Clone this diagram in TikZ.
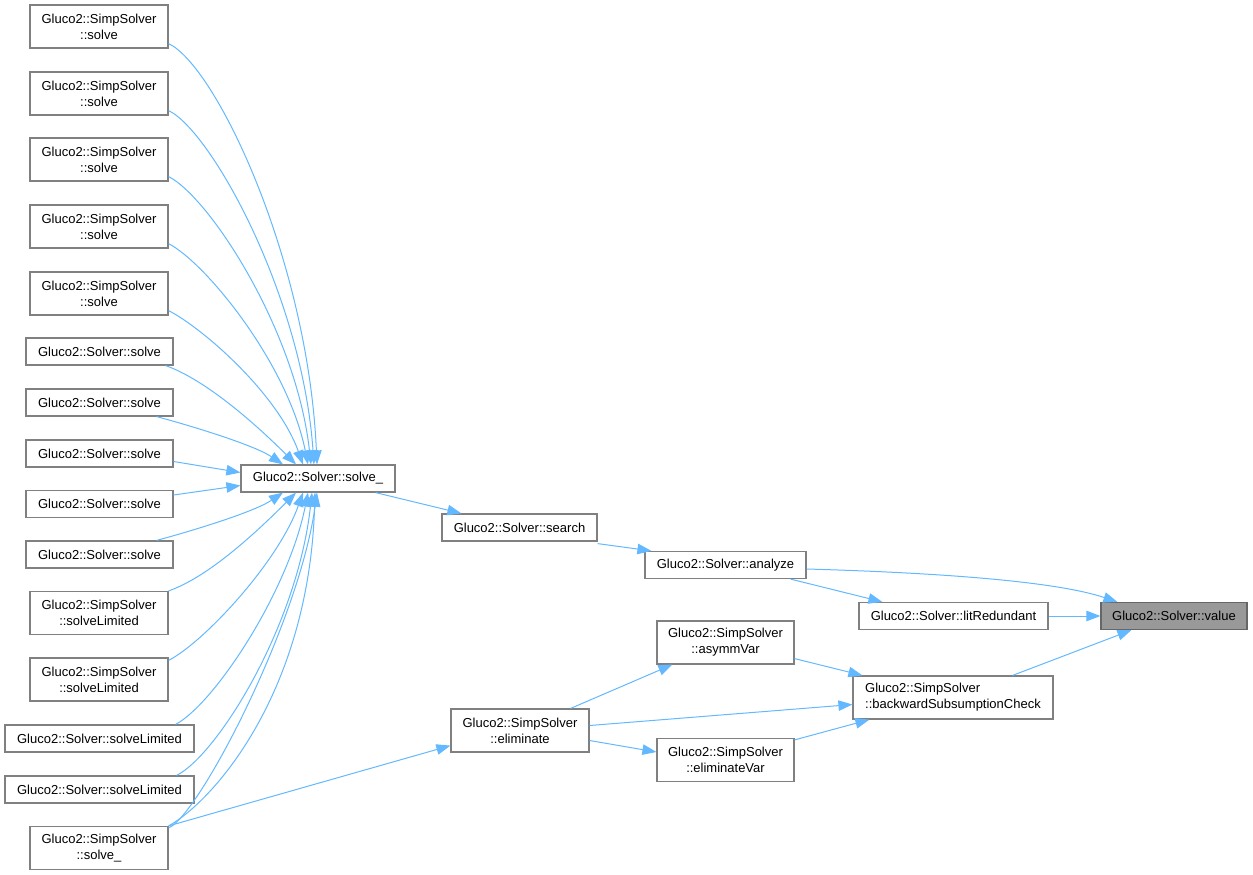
\documentclass[tikz,border=0pt]{standalone}
\usepackage{fontspec}
\setmainfont{Liberation Sans}
\usetikzlibrary{calc,arrows.meta}
\definecolor{edgeblue}{HTML}{63B8FF}
\definecolor{boxgray}{HTML}{808080}
\definecolor{fillgray}{HTML}{999999}
\begin{document}
\begin{tikzpicture}[x=1pt,y=-1pt,
  fn/.style={draw=boxgray,line width=1.2pt,fill=white,rectangle,inner sep=0pt,
    align=center,font=\fontsize{13}{16}\selectfont},
  two/.style={fn,minimum width=138pt,minimum height=43pt},
  one/.style={fn,minimum height=27pt},
  edge/.style={draw=edgeblue,line width=1pt,-{Triangle[length=14pt,width=10.5pt]}}]
\useasboundingbox (0,0) rectangle (1253,875);
% left column
\node[two] (ss1) at (99,26.5) {Gluco2::SimpSolver\\::solve};
\node[two] (ss2) at (99,93.5) {Gluco2::SimpSolver\\::solve};
\node[two] (ss3) at (99,159.5) {Gluco2::SimpSolver\\::solve};
\node[two] (ss4) at (99,226.5) {Gluco2::SimpSolver\\::solve};
\node[two] (ss5) at (99,293.5) {Gluco2::SimpSolver\\::solve};
\node[one,minimum width=147pt] (s6) at (99.5,351.5) {Gluco2::Solver::solve};
\node[one,minimum width=147pt] (s7) at (99.5,402.5) {Gluco2::Solver::solve};
\node[one,minimum width=147pt] (s8) at (99.5,453.5) {Gluco2::Solver::solve};
\node[one,minimum width=147pt] (s9) at (99.5,504) {Gluco2::Solver::solve};
\node[one,minimum width=147pt] (s10) at (99.5,554.5) {Gluco2::Solver::solve};
\node[two] (sl11) at (99,613) {Gluco2::SimpSolver\\::solveLimited};
\node[two] (sl12) at (99,679.5) {Gluco2::SimpSolver\\::solveLimited};
\node[one,minimum width=189pt] (l13) at (99.5,738.5) {Gluco2::Solver::solveLimited};
\node[one,minimum width=189pt] (l14) at (99.5,789.5) {Gluco2::Solver::solveLimited};
\node[two] (ssu) at (99,848) {Gluco2::SimpSolver\\::solve\_};
% middle
\node[one,minimum width=154pt] (solveu) at (318,478.5) {Gluco2::Solver::solve\_};
\node[one,minimum width=155pt] (search) at (519.5,527.5) {Gluco2::Solver::search};
\node[one,minimum width=161pt] (analyze) at (725.5,565) {Gluco2::Solver::analyze};
\node[one,minimum width=189pt] (litR) at (953.5,616) {Gluco2::Solver::litRedundant};
\node[one,minimum width=146pt,fill=fillgray,draw=black!60] (value) at (1174,616) {Gluco2::Solver::value};
\node[two,minimum width=137pt] (asymm) at (725.5,642.5) {Gluco2::SimpSolver\\::asymmVar};
\node[two,minimum width=200pt,align=left] (backward) at (953,697.5) {Gluco2::SimpSolver\\::backwardSubsumptionCheck};
\node[two] (elim) at (520,730.5) {Gluco2::SimpSolver\\::eliminate};
\node[two,minimum width=137pt] (elimVar) at (725.5,760) {Gluco2::SimpSolver\\::eliminateVar};
% edges into solve_
\draw[edge] ($(ss1.south east)+(0,-5)$) .. controls +(47,22) and +(-9,-205) .. ($(solveu.north)+(-1,0)$);
\draw[edge] ($(ss2.south east)+(0,-5)$) .. controls +(42,20) and +(-12,-170) .. ($(solveu.north)+(-4,0)$);
\draw[edge] ($(ss3.south east)+(0,-5)$) .. controls +(40,20) and +(-15,-135) .. ($(solveu.north)+(-7,0)$);
\draw[edge] ($(ss4.south east)+(0,-5)$) .. controls +(38,20) and +(-20,-100) .. ($(solveu.north)+(-10,0)$);
\draw[edge] ($(ss5.south east)+(0,-5)$) .. controls +(35,18) and +(-25,-70) .. ($(solveu.north)+(-15,0)$);
\draw[edge] ($(s6.south east)+(-8,0)$) .. controls +(40,14) and +(-40,-40) .. ($(solveu.north)+(-22,0)$);
\draw[edge] ($(s7.south east)+(-17,0)$) .. controls +(30,8) and +(-30,-20) .. ($(solveu.north)+(-35,0)$);
\draw[edge] ($(s8.east)+(0,8)$) -- ($(solveu.west)+(0,-6)$);
\draw[edge] ($(s9.east)+(0,-9)$) -- ($(solveu.west)+(0,7)$);
\draw[edge] ($(s10.north east)+(-17,0)$) .. controls +(30,-8) and +(-30,20) .. ($(solveu.south)+(-35,0)$);
\draw[edge] ($(sl11.north east)+(0,0)$) .. controls +(40,-14) and +(-40,40) .. ($(solveu.south)+(-22,0)$);
\draw[edge] ($(sl12.north east)+(0,3)$) .. controls +(35,-18) and +(-25,70) .. ($(solveu.south)+(-15,0)$);
\draw[edge] ($(l13.north east)+(-19,0)$) .. controls +(38,-20) and +(-20,100) .. ($(solveu.south)+(-10,0)$);
\draw[edge] ($(l14.north east)+(-18,0)$) .. controls +(40,-20) and +(-15,135) .. ($(solveu.south)+(-6,0)$);
\draw[edge] ($(ssu.north east)+(0,0)$) .. controls +(45,-25) and +(-6,200) .. ($(solveu.south)+(-3,0)$);
\draw[edge] ($(ssu.north east)+(0,2)$) .. controls +(30,-12) and +(-18,130) .. ($(solveu.south)+(-1,0)$);
% right part
\draw[edge] ($(solveu.south east)+(-20,0)$) -- ($(search.north west)+(20,0)$);
\draw[edge] ($(search.south east)+(0,2)$) -- ($(analyze.north west)+(7,0)$);
\draw[edge] ($(analyze.east)+(0,4)$) .. controls +(140,4) and +(-60,-20) .. ($(value.north west)+(17,0)$);
\draw[edge] ($(analyze.south east)+(-16,0)$) -- ($(litR.north west)+(24,0)$);
\draw[edge] (litR.east) -- (value.west);
\draw[edge] ($(backward.north east)+(-41,0)$) -- ($(value.south west)+(31,0)$);
\draw[edge] ($(asymm.south east)+(0,-6)$) -- ($(backward.north west)+(10,0)$);
\draw[edge] ($(elim.north east)+(-19,0)$) -- ($(asymm.south west)+(16,0)$);
\draw[edge] ($(elim.east)+(0,-5)$) -- ($(backward.west)+(0,7)$);
\draw[edge] ($(elim.east)+(0,10)$) -- ($(elimVar.west)+(0,-8)$);
\draw[edge] ($(elimVar.north east)+(0,2)$) -- ($(backward.south west)+(17,0)$);
\draw[edge] (ssu.north east) -- ($(elim.south west)+(0,-7)$);
\end{tikzpicture}
\end{document}
